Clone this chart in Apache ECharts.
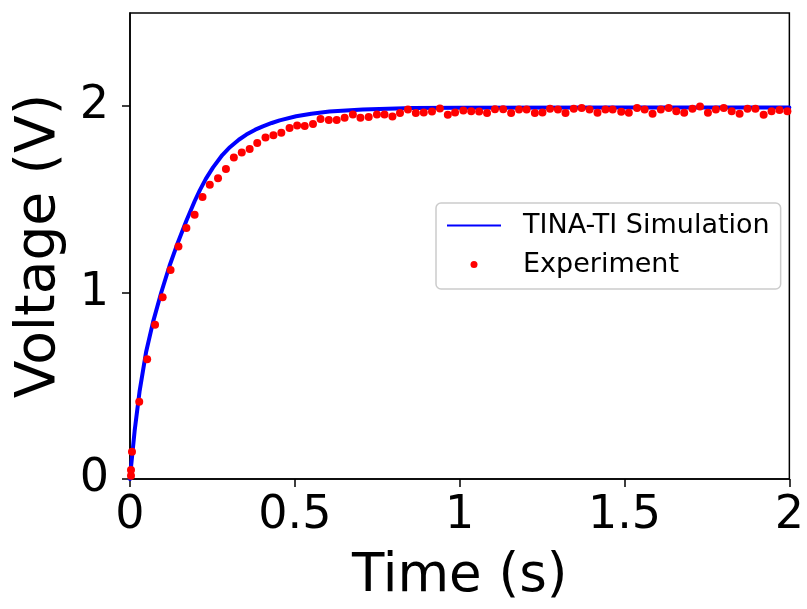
<!DOCTYPE html>
<html>
<head>
<meta charset="utf-8">
<script src="https://cdn.jsdelivr.net/npm/echarts@6/dist/echarts.min.js"></script>
<style>html,body{margin:0;padding:0;background:#fff}#c{width:807px;height:609px}</style>
</head>
<body>
<div id="c"></div>
<script>
// Simulation (TINA-TI) curve
var simT = [0, 0.002, 0.014, 0.029, 0.049, 0.070, 0.095, 0.120, 0.145, 0.171, 0.196, 0.212, 0.230, 0.252, 0.280, 0.303, 0.330, 0.353, 0.380, 0.403, 0.430, 0.454, 0.504, 0.550, 0.605, 0.706, 0.857, 1.00, 1.50, 2.00];
var simV = [0, 0.045, 0.257, 0.470, 0.683, 0.843, 1.002, 1.144, 1.268, 1.385, 1.490, 1.550, 1.610, 1.672, 1.738, 1.780, 1.820, 1.848, 1.874, 1.892, 1.910, 1.924, 1.946, 1.960, 1.971, 1.982, 1.990, 1.992, 1.993, 1.993];

// Experiment points
var expT = [0.003,0.003,0.006,0.028,0.052,0.076,0.099,0.123,0.147,0.171,0.196,0.220,0.242,0.267,0.291,0.315,0.339,0.363,0.386,0.411,0.435,0.459,0.484,0.507,0.530,0.555,
0.578,0.603,0.627,0.651,0.676,0.699,0.724,0.749,0.772,0.796,0.819,0.843,0.867,0.891,0.916,0.940,0.964,0.986,1.011,1.035,1.059,1.083,1.107,1.132,1.156,1.180,1.203,1.228,1.251,
1.274,1.298,1.321,1.346,1.370,1.394,1.418,1.442,1.464,1.490,1.513,1.538,1.561,1.585,1.610,1.634,1.657,1.681,1.706,1.729,1.753,1.777,1.801,1.825,1.849,1.873,1.897,1.922,1.946,1.970,1.994];
var expV = [0.018,0.048,0.146,0.415,0.642,0.828,0.975,1.121,1.247,1.346,1.417,1.513,1.578,1.614,1.663,1.725,1.752,1.770,1.803,1.832,1.844,1.858,1.883,1.897,1.894,1.905,
1.931,1.926,1.926,1.938,1.956,1.938,1.942,1.956,1.956,1.945,1.963,1.982,1.963,1.966,1.972,1.988,1.954,1.966,1.977,1.973,1.972,1.963,1.984,1.984,1.963,1.982,1.982,1.963,1.966,
1.986,1.982,1.963,1.986,1.991,1.982,1.965,1.982,1.982,1.970,1.965,1.991,1.982,1.960,1.982,1.991,1.973,1.965,1.986,1.998,1.965,1.982,1.991,1.973,1.960,1.986,1.986,1.954,1.973,1.980,1.973];

var xTicks = [0, 0.5, 1, 1.5, 2];
var yTicks = [0, 1, 2];
var xLabel = 'Time (s)';
var yLabel = 'Voltage (V)';
var simName = 'TINA-TI Simulation';
var expName = 'Experiment';

var FONT = 'DejaVu Sans';
var simData = simT.map(function (t, i) { return [t, simV[i]]; });
var expData = expT.map(function (t, i) { return [t, expV[i]]; });

var chart = echarts.init(document.getElementById('c'), null, {renderer: 'canvas'});
chart.setOption({
  animation: false,
  backgroundColor: '#ffffff',
  grid: {left: 130, right: 16, top: 13, bottom: 127, show: true, borderColor: '#000', borderWidth: 1.5, backgroundColor: 'transparent'},
  xAxis: {
    type: 'value', min: 0, max: 2, interval: 0.5,
    name: xLabel, nameLocation: 'middle', nameGap: 72,
    nameTextStyle: {fontFamily: FONT, fontSize: 53, color: '#000'},
    axisLine: {show: true, onZero: false, lineStyle: {color: '#000', width: 1.5}},
    axisTick: {show: true, inside: false, length: 8, lineStyle: {color: '#000', width: 1.5}, customValues: xTicks},
    axisLabel: {show: true, margin: 14, fontFamily: FONT, fontSize: 46, color: '#000', customValues: xTicks,
      formatter: function (v) { return String(v); }},
    splitLine: {show: false}
  },
  yAxis: {
    type: 'value', min: 0, max: 2.5, interval: 1,
    name: yLabel, nameLocation: 'middle', nameGap: 63,
    nameTextStyle: {fontFamily: FONT, fontSize: 55, color: '#000'},
    axisLine: {show: true, onZero: false, lineStyle: {color: '#000', width: 1.5}},
    axisTick: {show: true, inside: false, length: 8, lineStyle: {color: '#000', width: 1.5}, customValues: yTicks},
    axisLabel: {show: true, margin: 21, fontFamily: FONT, fontSize: 46, color: '#000', customValues: yTicks,
      formatter: function (v) { return String(v); }},
    splitLine: {show: false}
  },
  legend: {
    orient: 'vertical', left: 436, top: 203,
    padding: [9, 11, 11, 11], itemGap: 12, itemWidth: 54, itemHeight: 7,
    borderColor: '#cccccc', borderWidth: 1.5, borderRadius: 5, backgroundColor: '#ffffff',
    textStyle: {fontFamily: FONT, fontSize: 27, color: '#000', padding: [0, 0, 0, 17]},
    data: [
      {name: simName, icon: 'path://M0,0L54,0L54,2L0,2Z', itemStyle: {color: '#0000ff'}},
      {name: expName, icon: 'circle'}
    ]
  },
  series: [
    {
      name: simName, type: 'line', data: simData, showSymbol: false, symbol: 'none',
      smooth: false,
      lineStyle: {color: '#0000ff', width: 4, join: 'round', cap: 'round'}, itemStyle: {color: '#0000ff'}, z: 2
    },
    {
      name: expName, type: 'scatter', data: expData, symbol: 'circle', symbolSize: 8,
      itemStyle: {color: '#ff0000', opacity: 1}, z: 3
    }
  ]
});
</script>
</body>
</html>
